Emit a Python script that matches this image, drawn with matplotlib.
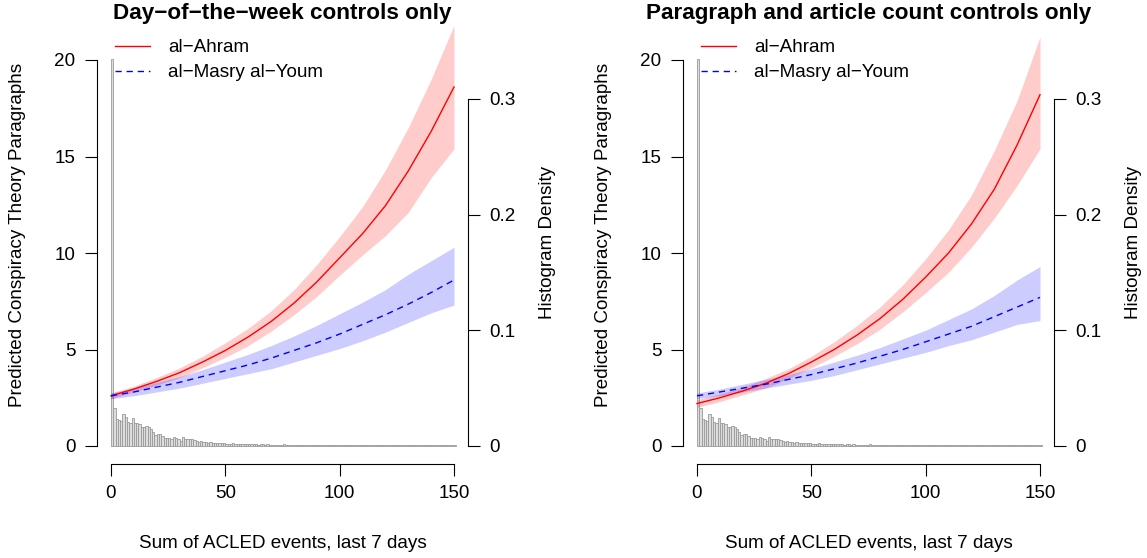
import matplotlib
matplotlib.use("Agg")
import matplotlib.pyplot as plt
from matplotlib.ticker import FixedLocator, FixedFormatter

plt.rcParams['font.family'] = ['Liberation Sans', 'DejaVu Sans']

W, H = 1147, 558
FS = 13.6

# ---------------- data ----------------
x_grid = [0, 10, 20, 30, 40, 50, 60, 70, 80, 90, 100, 110, 120, 130, 140, 150]

# Panel 1: day-of-the-week controls only
p1_ahram = [2.6, 2.95, 3.35, 3.8, 4.35, 4.95, 5.65, 6.45, 7.4, 8.5, 9.75, 11.0, 12.45, 14.25, 16.3, 18.6]
p1_ahram_hi = [2.75, 3.1, 3.55, 4.05, 4.65, 5.35, 6.1, 7.0, 8.1, 9.4, 10.85, 12.4, 14.3, 16.5, 19.0, 21.8]
p1_ahram_lo = [2.45, 2.8, 3.15, 3.55, 4.05, 4.6, 5.2, 5.95, 6.8, 7.75, 8.85, 9.9, 10.9, 12.1, 13.9, 15.4]
p1_masry = [2.6, 2.8, 3.05, 3.3, 3.6, 3.9, 4.2, 4.55, 4.95, 5.35, 5.8, 6.3, 6.8, 7.35, 7.95, 8.6]
p1_masry_hi = [2.75, 3.0, 3.3, 3.6, 3.95, 4.35, 4.75, 5.2, 5.7, 6.25, 6.85, 7.45, 8.1, 8.9, 9.6, 10.3]
p1_masry_lo = [2.45, 2.6, 2.8, 3.0, 3.25, 3.5, 3.75, 4.0, 4.35, 4.7, 5.05, 5.45, 5.9, 6.4, 6.9, 7.3]

# Panel 2: paragraph and article count controls only
p2_ahram = [2.2, 2.5, 2.85, 3.25, 3.75, 4.35, 5.0, 5.75, 6.6, 7.6, 8.75, 10.0, 11.5, 13.3, 15.6, 18.2]
p2_ahram_hi = [2.4, 2.7, 3.05, 3.5, 4.0, 4.65, 5.4, 6.25, 7.2, 8.35, 9.7, 11.2, 13.0, 15.3, 17.9, 21.2]
p2_ahram_lo = [2.0, 2.3, 2.65, 3.0, 3.5, 4.05, 4.65, 5.3, 6.05, 6.95, 7.95, 9.0, 10.3, 11.8, 13.5, 15.4]
p2_masry = [2.6, 2.8, 3.0, 3.2, 3.45, 3.7, 4.0, 4.3, 4.65, 5.0, 5.4, 5.8, 6.2, 6.7, 7.2, 7.7]
p2_masry_hi = [2.75, 2.95, 3.2, 3.45, 3.7, 4.0, 4.35, 4.7, 5.1, 5.55, 6.0, 6.55, 7.1, 7.8, 8.6, 9.3]
p2_masry_lo = [2.45, 2.6, 2.8, 3.0, 3.2, 3.4, 3.65, 3.95, 4.25, 4.55, 4.85, 5.2, 5.5, 5.9, 6.3, 6.5]

# Histogram of ACLED event sums (density per unit-width bin, bins start at 0..150)
hist_density = [
    0.335,
    0.0329, 0.0230, 0.0222, 0.0214, 0.0280, 0.0250, 0.0210, 0.0202, 0.0239, 0.0202,
    0.0202, 0.0194, 0.0167, 0.0167, 0.0172, 0.0160, 0.0143, 0.0123, 0.0095, 0.0103,
    0.0108, 0.0087, 0.0067, 0.0067, 0.0067, 0.0060, 0.0080, 0.0067, 0.0057, 0.0047,
    0.0075, 0.0060, 0.0057, 0.0057, 0.0057, 0.0052, 0.0043, 0.0032, 0.0040, 0.0037,
    0.0037, 0.0030, 0.0033, 0.0027, 0.0028, 0.0023, 0.0025, 0.0022, 0.0023, 0.0020,
    0.0020, 0.0017, 0.0022, 0.0015, 0.0018, 0.0020, 0.0013, 0.0017, 0.0015, 0.0018,
    0.0015, 0.0013, 0.0017, 0.0012, 0.0013, 0.0015, 0.0010, 0.0013, 0.0012, 0.0010,
    0.0008, 0.0010, 0.0008, 0.0007, 0.0013, 0.0008, 0.0007, 0.0008, 0.0010, 0.0007,
    0.0008, 0.0007, 0.0010, 0.0008, 0.0007, 0.0008, 0.0007, 0.0010, 0.0008, 0.0007,
    0.0008, 0.0007, 0.0007, 0.0008, 0.0005, 0.0007, 0.0010, 0.0007, 0.0005, 0.0007,
    0.0007, 0.0005, 0.0007, 0.0008, 0.0005, 0.0007, 0.0005, 0.0007, 0.0005, 0.0007,
    0.0005, 0.0007, 0.0005, 0.0005, 0.0007, 0.0005, 0.0007, 0.0005, 0.0005, 0.0007,
    0.0005, 0.0007, 0.0005, 0.0005, 0.0007, 0.0005, 0.0005, 0.0007, 0.0005, 0.0005,
    0.0007, 0.0005, 0.0005, 0.0007, 0.0005, 0.0007, 0.0005, 0.0005, 0.0007, 0.0005,
    0.0005, 0.0007, 0.0005, 0.0005, 0.0007, 0.0005, 0.0005, 0.0007, 0.0005, 0.0005,
]
hist_left = list(range(len(hist_density)))

titles = ["Day\u2212of\u2212the\u2212week controls only",
          "Paragraph and article count controls only"]
legend_labels = ["al\u2212Ahram", "al\u2212Masry al\u2212Youm"]
x_ticks = [0, 50, 100, 150]
y_ticks = [0, 5, 10, 15, 20]
d_ticks = [0, 0.1, 0.2, 0.3]
d_tick_labels = ["0", "0.1", "0.2", "0.3"]
xlabel = "Sum of ACLED events, last 7 days"
ylabel = "Predicted Conspiracy Theory Paragraphs"
ylabel2 = "Histogram Density"

panels = [
    (p1_ahram, p1_ahram_lo, p1_ahram_hi, p1_masry, p1_masry_lo, p1_masry_hi),
    (p2_ahram, p2_ahram_lo, p2_ahram_hi, p2_masry, p2_masry_lo, p2_masry_hi),
]

# ---------------- layout (pixels) ----------------
fig = plt.figure(figsize=(W / 100, H / 100), dpi=100)

XPX = 2.2867     # px per x unit
YPX = 19.3       # px per y unit
DPX = 1156.7     # px per density unit
Y0 = 446.0       # pixel row of y=0
TOP, BOT = 8.0, 463.5

tick_len = 12 * 72 / 100
lw_axis = 0.8

for i, (ah, ah_lo, ah_hi, ms, ms_lo, ms_hi) in enumerate(panels):
    dx = 586 * i
    x0px = 111 + dx
    left_px = x0px - 6 * XPX
    right_px = x0px + 156 * XPX
    ax = fig.add_axes([left_px / W, 1 - BOT / H, (right_px - left_px) / W, (BOT - TOP) / H])
    ax2 = ax.twinx()
    ax.set_zorder(ax2.get_zorder() + 1)
    ax.patch.set_visible(False)

    ax.set_xlim(-6, 156)
    ax.set_ylim((Y0 - BOT) / YPX, (Y0 - TOP) / YPX)
    ax2.set_ylim((Y0 - BOT) / DPX, (Y0 - TOP) / DPX)

    # histogram
    ax2.bar(hist_left, hist_density, width=1.0, align='edge',
            facecolor='#dcdcdc', edgecolor='#9a9a9a', linewidth=0.6)

    # bands and lines
    ax.fill_between(x_grid, ah_lo, ah_hi, color=(1, 0, 0, 0.2), linewidth=0)
    ax.fill_between(x_grid, ms_lo, ms_hi, color=(0, 0, 1, 0.2), linewidth=0)
    l1, = ax.plot(x_grid, ah, color='red', lw=1.0)
    l2, = ax.plot(x_grid, ms, color='blue', lw=1.0, linestyle=(0, (4.5, 3.5)))

    # spines
    for a in (ax, ax2):
        a.spines['top'].set_visible(False)
    ax.spines['right'].set_visible(False)
    ax2.spines['left'].set_visible(False)
    ax2.spines['bottom'].set_visible(False)
    ax.spines['left'].set_bounds(0, 20)
    ax.spines['bottom'].set_bounds(0, 150)
    ax2.spines['right'].set_bounds(0, 0.3)
    for sp in (ax.spines['left'], ax.spines['bottom'], ax2.spines['right']):
        sp.set_linewidth(lw_axis)
        sp.set_color('black')

    ax.xaxis.set_major_locator(FixedLocator(x_ticks))
    ax.yaxis.set_major_locator(FixedLocator(y_ticks))
    ax2.yaxis.set_major_locator(FixedLocator(d_ticks))
    ax2.yaxis.set_major_formatter(FixedFormatter(d_tick_labels))
    ax.tick_params(axis='both', direction='out', length=tick_len, width=lw_axis,
                   labelsize=FS, pad=7)
    ax2.tick_params(axis='y', direction='out', length=tick_len, width=lw_axis,
                    labelsize=FS, pad=7)
    ax2.tick_params(axis='x', bottom=False, labelbottom=False)

    cx = (left_px + right_px) / 2
    fig.text(cx / W, 1 - 14 / H, titles[i], ha='center', va='center',
             fontsize=16.2, fontweight='bold')
    fig.text(cx / W, 1 - 543 / H, xlabel, ha='center', va='center', fontsize=FS)
    fig.text((18 + dx) / W, 1 - 235 / H, ylabel, ha='center', va='center',
             rotation=90, fontsize=FS)
    fig.text((548 + dx) / W, 1 - 242 / H, ylabel2, ha='center', va='center',
             rotation=90, fontsize=FS)

    leg = ax.legend([l1, l2], legend_labels, loc='upper left',
                    bbox_to_anchor=((115 + dx) / W, 1 - 39 / H),
                    bbox_transform=fig.transFigure, frameon=False,
                    fontsize=FS, borderpad=0, borderaxespad=0,
                    handlelength=1.87, handletextpad=0.96, labelspacing=0.42)

fig.savefig("out.png", dpi=100)
